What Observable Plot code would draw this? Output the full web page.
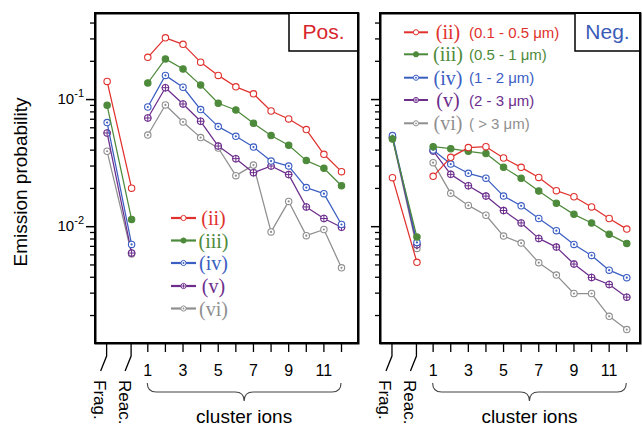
<!DOCTYPE html>
<html><head><meta charset="utf-8">
<script src="https://cdn.jsdelivr.net/npm/d3@7"></script>
<script src="https://cdn.jsdelivr.net/npm/@observablehq/plot@0.6"></script>
<style>
body{margin:0;background:#fff;font-family:"Liberation Sans",Arial,sans-serif;}
#wrap{position:relative;width:642px;height:429px;overflow:hidden;background:#fff;}
#wrap svg.pl{position:absolute;top:0;overflow:visible;}
</style></head><body><div id="wrap"></div>
<script>
// ---------------- data ----------------
const seriesNames = ["(ii)", "(iii)", "(iv)", "(v)", "(vi)"];
const sizeRanges = ["(0.1 - 0.5 μm)", "(0.5 - 1 μm)", "(1 - 2 μm)", "(2 - 3 μm)", "( > 3 μm)"];
const panelLabels = ["Pos.", "Neg."];
const extraCategories = ["Frag.", "Reac."];
const clusterIons = [1, 2, 3, 4, 5, 6, 7, 8, 9, 10, 11, 12];
const xTickLabels = [1, 3, 5, 7, 9, 11];
const yMajorTicks = [0.1, 0.01];
const yTickExponents = ["-1", "-2"];
const yAxisTitle = "Emission probability";
const xAxisTitle = "cluster ions";

// Positive panel: Frag., Reac. values per series (ii..vi)
const posFrag = [0.139, 0.0902, 0.0659, 0.0546, 0.0392];
const posReac = [0.0201, 0.0114, 0.00725, 0.0062, 0.0061];
const posII  = [0.215, 0.306, 0.272, 0.197, 0.155, 0.126, 0.111, 0.0813, 0.0704, 0.0581, 0.0371, 0.0271];
const posIII = [0.135, 0.209, 0.174, 0.130, 0.0935, 0.0828, 0.0651, 0.0521, 0.0437, 0.0331, 0.0288, 0.0210];
const posIV  = [0.0874, 0.155, 0.125, 0.0834, 0.0613, 0.0514, 0.0423, 0.0328, 0.0300, 0.0203, 0.0182, 0.0104];
const posV   = [0.0716, 0.124, 0.0923, 0.0675, 0.0431, 0.0343, 0.0266, 0.0300, 0.0257, 0.0143, 0.0116, 0.0099];
const posVI  = [0.0526, 0.0907, 0.0666, 0.0502, 0.0416, 0.0252, 0.0305, 0.0091, 0.0158, 0.0085, 0.0095, 0.00475];

// Negative panel
const negFrag = [0.0243, 0.0490, 0.0521, 0.0505, 0.0495];
const negReac = [0.00524, 0.00828, 0.00752, 0.0072, 0.00675];
const negII  = [0.0249, 0.0351, 0.0419, 0.0426, 0.0347, 0.0293, 0.0244, 0.0192, 0.0172, 0.0143, 0.0116, 0.00957];
const negIII = [0.0426, 0.0411, 0.0392, 0.0376, 0.0293, 0.0240, 0.0191, 0.0153, 0.0125, 0.0107, 0.0087, 0.00739];
const negIV  = [0.0401, 0.0311, 0.0263, 0.0241, 0.0174, 0.0146, 0.0116, 0.0093, 0.00725, 0.00594, 0.00455, 0.00397];
const negV   = [0.0394, 0.0258, 0.0210, 0.0174, 0.0134, 0.0107, 0.00809, 0.00691, 0.00508, 0.00399, 0.00351, 0.00279];
const negVI  = [0.0319, 0.0183, 0.0147, 0.0123, 0.00843, 0.00743, 0.00521, 0.00416, 0.00298, 0.00298, 0.00197, 0.00155];

// ---------------- styling / layout ----------------
const colors = ["#e0312d", "#4e8a3b", "#3b5ec2", "#6c2d8c", "#8f8f8f"];
const markerKinds = ["open", "filled", "dot", "plus", "dot"];
const extraPos = [-1.31, 0.08];           // x-scale positions for Frag. / Reac.
const yDomain = [0.001205, 0.4755];
const H = 429, MT = 13, MB = 86;
const SANS = "Liberation Sans, Arial, sans-serif", SERIF = "Liberation Serif, Times New Roman, serif";
const wrap = document.getElementById("wrap");
const NS = "http://www.w3.org/2000/svg";
function el(tag, attrs, parent, text) {
  const e = document.createElementNS(NS, tag);
  for (const k in attrs) e.setAttribute(k, attrs[k]);
  if (text != null) e.textContent = text;
  if (parent) parent.appendChild(e);
  return e;
}
const minorTicks = [];
for (const dec of [0.001, 0.01, 0.1]) for (let m = 2; m <= 9; m++) { const v = m * dec; if (v > yDomain[0] && v < yDomain[1]) minorTicks.push(v); }

function seriesMarks(rows, i) {
  const c = colors[i], kind = markerKinds[i];
  const marks = [
    Plot.line(rows, {x: "x", y: "v", z: "group", stroke: c, strokeWidth: 1.25}),
    Plot.dot(rows, {x: "x", y: "v", r: 3.2, stroke: c, strokeWidth: 1.1, fill: kind === "filled" ? c : "white"})
  ];
  if (kind === "dot") marks.push(Plot.dot(rows, {x: "x", y: "v", r: 1.1, fill: c}));
  if (kind === "plus") marks.push(Plot.dot(rows, {x: "x", y: "v", r: 2.6, symbol: "plus", stroke: c, strokeWidth: 1}));
  return marks;
}

function makePanel(pi, frag, reac, series, opt) {
  const marks = [
    Plot.axisY({ticks: minorTicks, tickSize: 5, tickFormat: () => "", label: null, stroke: "black", strokeWidth: 1.3}),
    Plot.axisY({ticks: yMajorTicks, tickSize: 9, label: null, stroke: "black", strokeWidth: 1.5, tickFormat: () => ""}),
    Plot.axisX({ticks: clusterIons, tickSize: 9, label: null, stroke: "black", strokeWidth: 1.3, fontSize: 16, tickPadding: 12,
      tickFormat: d => xTickLabels.includes(d) ? String(d) : ""})
  ];
  for (let i = series.length - 1; i >= 0; i--) {
    const rows = [
      {x: extraPos[0], v: frag[i], group: "fr"},
      {x: extraPos[1], v: reac[i], group: "fr"},
      ...clusterIons.map((n, k) => ({x: n, v: series[i][k], group: "cl"}))
    ];
    marks.push(...seriesMarks(rows, i));
  }
  marks.push(Plot.frame({stroke: "black", strokeWidth: 2}));
  const chart = Plot.plot({
    width: opt.width, height: H, marginLeft: opt.ml, marginRight: opt.mr, marginTop: MT, marginBottom: MB,
    style: {fontFamily: SANS, color: "black", background: "transparent", overflow: "visible"},
    x: {domain: opt.xDomain, axis: null},
    y: {type: "log", domain: yDomain, axis: null},
    marks
  });
  chart.classList.add("pl");
  chart.style.left = opt.left + "px";
  wrap.appendChild(chart);
  const X = chart.scale("x"), Y = chart.scale("y");
  const bottom = H - MB;
  const g = el("g", {"text-anchor": "start"}, chart);
  // y tick labels with superscript exponents
  if (opt.labels) {
    yMajorTicks.forEach((v, j) => {
      const t = el("text", {x: X.range[0] - 11, y: Y.apply(v) + 5, "text-anchor": "end", "font-size": 15, fill: "black", "font-family": SANS}, g);
      el("tspan", {}, t, "10");
      el("tspan", {dy: -7, "font-size": 11}, t, yTickExponents[j]);
    });
  }
  // Frag./Reac. broken ticks and rotated labels
  extraCategories.forEach((lab, j) => {
    const x = X.apply(extraPos[j]);
    el("path", {d: `M${x},${bottom} L${x},${bottom + 13} L${x - 6},${bottom + 28}`, fill: "none", stroke: "black", "stroke-width": 1.3}, g);
    el("text", {x: 0, y: 0, transform: `translate(${x - 7},${bottom + 37}) rotate(90)`, "text-anchor": "start", "dominant-baseline": "central",
      "font-size": 17, fill: "black", "font-family": SANS}, g, lab);
  });
  // brace under cluster ions
  const x1 = X.apply(clusterIons[0]), x2 = X.apply(clusterIons[clusterIons.length - 1]), xm = (x1 + x2) / 2;
  const yT = bottom + 40, yM = bottom + 49, yP = bottom + 58;
  el("path", {d: `M${x1},${yT} Q${x1},${yM} ${x1 + 9},${yM} L${xm - 9},${yM} Q${xm},${yM} ${xm},${yP} Q${xm},${yM} ${xm + 9},${yM} L${x2 - 9},${yM} Q${x2},${yM} ${x2},${yT}`,
    fill: "none", stroke: "#444", "stroke-width": 1.1}, g);
  el("text", {x: xm, y: H - 6, "text-anchor": "middle", "font-size": 19, fill: "black", "font-family": SANS}, g, xAxisTitle);
  // panel label box
  const fr = X.range[1], top = MT;
  el("rect", {x: fr - opt.boxW, y: top, width: opt.boxW, height: 38, fill: "white", stroke: "black", "stroke-width": 1.5}, g);
  el("text", {x: fr - opt.boxW / 2, y: top + 26, "text-anchor": "middle", "font-size": 21, fill: opt.boxColor, "font-family": SANS}, g, panelLabels[pi]);
  el("rect", {x: X.range[0], y: MT, width: X.range[1] - X.range[0], height: bottom - MT, fill: "none", stroke: "black", "stroke-width": 2}, g);
  return {chart, X, Y, g};
}

const left = makePanel(0, posFrag, posReac, [posII, posIII, posIV, posV, posVI],
  {width: 360, left: 0, ml: 95, mr: 2, xDomain: [-1.97, 12.965], labels: true, boxW: 69, boxColor: "#d8262c"});
const right = makePanel(1, negFrag, negReac, [negII, negIII, negIV, negV, negVI],
  {width: 282, left: 360, ml: 20, mr: 2, xDomain: [-1.99, 12.78], labels: false, boxW: 65, boxColor: "#3a5cb8"});

// y axis title
el("text", {x: 0, y: 0, transform: "translate(20,182) rotate(-90)", "text-anchor": "middle", "dominant-baseline": "central",
  "font-size": 19, fill: "black", "font-family": SANS}, left.g, yAxisTitle);

// legends
function legendMarker(g, x, y, i) {
  const c = colors[i], k = markerKinds[i];
  el("circle", {cx: x, cy: y, r: 2.6, fill: k === "filled" ? c : "white", stroke: c, "stroke-width": 1}, g);
  if (k === "dot") el("circle", {cx: x, cy: y, r: 0.9, fill: c}, g);
  if (k === "plus") el("path", {d: `M${x - 1.8},${y} H${x + 1.8} M${x},${y - 1.8} V${y + 1.8}`, stroke: c, "stroke-width": 0.9}, g);
}
const lg = left.g;
const leftRows = [218, 240.5, 263, 286, 308.5];
seriesNames.forEach((s, i) => {
  const y = leftRows[i];
  el("line", {x1: 171, x2: 196, y1: y, y2: y, stroke: colors[i], "stroke-width": 2.2}, lg);
  legendMarker(lg, 183.5, y, i);
  el("text", {x: 213.5, y: y, "text-anchor": "middle", "dominant-baseline": "central", "font-size": 20, fill: colors[i], "font-family": SERIF}, lg, s);
});
const rg = right.g;
const rightRows = [32.3, 54.3, 77.7, 100, 123.3];
seriesNames.forEach((s, i) => {
  const y = rightRows[i];
  el("line", {x1: 404 - 360, x2: 428 - 360, y1: y, y2: y, stroke: colors[i], "stroke-width": 2}, rg);
  legendMarker(rg, 416 - 360, y, i);
  el("text", {x: 448 - 360, y: y, "text-anchor": "middle", "dominant-baseline": "central", "font-size": 20, fill: colors[i], "font-family": SERIF}, rg, s);
  el("text", {x: 469 - 360, y: y, "text-anchor": "start", "dominant-baseline": "central", "font-size": 15, fill: colors[i], "font-family": SANS}, rg, sizeRanges[i]);
});
</script></body></html>
